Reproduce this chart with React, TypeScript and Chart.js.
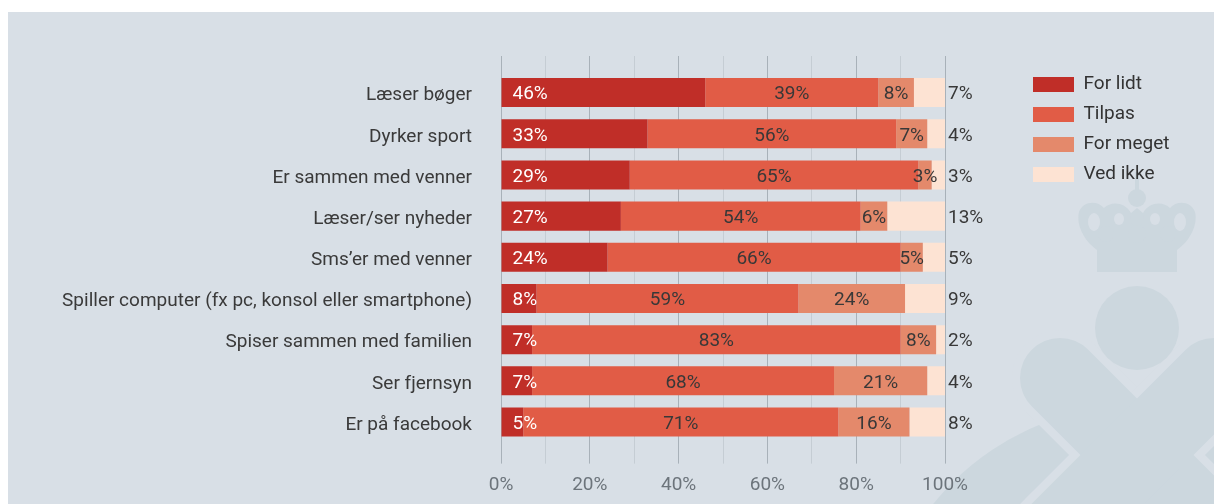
import React, { useEffect, useRef } from 'react';
import { Chart, registerables } from 'chart.js';

Chart.register(...registerables);

const categories = [
  'Læser bøger',
  'Dyrker sport',
  'Er sammen med venner',
  'Læser/ser nyheder',
  'Sms’er med venner',
  'Spiller computer (fx pc, konsol eller smartphone)',
  'Spiser sammen med familien',
  'Ser fjernsyn',
  'Er på facebook',
];
const seriesNames = ['For lidt', 'Tilpas', 'For meget', 'Ved ikke'];
const forLidt = [46, 33, 29, 27, 24, 8, 7, 7, 5];
const tilpas = [39, 56, 65, 54, 66, 59, 83, 68, 71];
const forMeget = [8, 7, 3, 6, 5, 24, 8, 21, 16];
const vedIkke = [7, 4, 3, 13, 5, 9, 2, 4, 8];
const xTickLabels = [0, 20, 40, 60, 80, 100];

const seriesColors = ['#c02e28', '#e15c46', '#e4896b', '#fde3d3'];
const FONT = 'Roboto, "DejaVu Sans", sans-serif';
const DARK = '#383838';
const BG = '#d8dfe6';
const WM = '#ccd7de';

const segLabels = {
  id: 'segLabels',
  afterDatasetsDraw(chart: any) {
    const ctx = chart.ctx;
    ctx.save();
    ctx.font = `19px ${FONT}`;
    ctx.textBaseline = 'middle';
    chart.data.datasets.forEach((ds: any, i: number) => {
      const meta = chart.getDatasetMeta(i);
      meta.data.forEach((el: any, j: number) => {
        const { x, y, base } = el.getProps(['x', 'y', 'base'], true);
        const txt = ds.data[j] + '%';
        const left = Math.min(x, base);
        const right = Math.max(x, base);
        const ty = y + 2;
        if (i === 0) {
          ctx.fillStyle = '#ffffff';
          ctx.textAlign = 'left';
          ctx.fillText(txt, left + 11, ty);
        } else if (i === 3) {
          ctx.fillStyle = DARK;
          ctx.textAlign = 'left';
          ctx.fillText(txt, right + 3, ty);
        } else {
          ctx.fillStyle = DARK;
          ctx.textAlign = 'center';
          ctx.fillText(txt, (left + right) / 2, ty);
        }
      });
    });
    ctx.restore();
  },
};

function Watermark() {
  return (
    <svg
      width={1206}
      height={492}
      style={{ position: 'absolute', left: 0, top: 0 }}
    >
      <g transform="translate(-8,-12)">
        <circle cx={1137} cy={667} r={261} fill={WM} />
        <line x1={1060} y1={378} x2={1320} y2={638} stroke={BG} strokeWidth={96} strokeLinecap="round" />
        <line x1={1214} y1={378} x2={954} y2={638} stroke={BG} strokeWidth={96} strokeLinecap="round" />
        <line x1={1060} y1={378} x2={1320} y2={638} stroke={WM} strokeWidth={80} strokeLinecap="round" />
        <line x1={1214} y1={378} x2={954} y2={638} stroke={WM} strokeWidth={80} strokeLinecap="round" />
        <circle cx={1137} cy={328} r={42} fill={WM} />
        <rect x={1135} y={172} width={4} height={20} fill={WM} />
        <circle cx={1137} cy={198} r={9} fill={WM} />
        <path
          d="M1097 272 L1097 250 C1083 240 1076 224 1079 212 C1083 201 1097 200 1104 208 C1111 201 1125 202 1131 213 L1137 208 L1143 213 C1149 202 1163 201 1170 208 C1177 200 1191 201 1195 212 C1198 224 1191 240 1177 250 L1177 272 Z"
          fill={WM}
        />
        <ellipse cx={1094} cy={222} rx={6} ry={9} fill={BG} />
        <ellipse cx={1180} cy={222} rx={6} ry={9} fill={BG} />
        <ellipse cx={1119} cy={219} rx={5} ry={6} fill={BG} />
        <ellipse cx={1155} cy={219} rx={5} ry={6} fill={BG} />
        <circle cx={1106} cy={234} r={8} fill={WM} />
        <circle cx={1137} cy={234} r={9} fill={WM} />
        <circle cx={1168} cy={234} r={8} fill={WM} />
        <circle cx={1137} cy={219} r={7} fill={WM} />
      </g>
    </svg>
  );
}

export default function App() {
  const ref = useRef<HTMLCanvasElement>(null);

  useEffect(() => {
    if (!ref.current) return;
    const gridColor = (c: any) =>
      c.tick && c.tick.value % 20 === 0 ? '#a8b1b9' : '#c5cdd4';
    const values = [forLidt, tilpas, forMeget, vedIkke];

    const chart = new Chart(ref.current, {
      type: 'bar',
      data: {
        labels: categories,
        datasets: seriesNames.map((name, i) => ({
          label: name,
          data: values[i],
          backgroundColor: seriesColors[i],
          borderWidth: 0,
          barPercentage: 0.705,
          categoryPercentage: 1,
        })),
      },
      options: {
        indexAxis: 'y',
        animation: false,
        responsive: true,
        maintainAspectRatio: false,
        events: [],
        layout: { padding: { top: 44, right: 42, bottom: 0, left: 0 } },
        font: { family: FONT, size: 19 },
        scales: {
          x: {
            type: 'linear',
            position: 'bottom',
            stacked: true,
            min: 0,
            max: 100,
            grid: { color: gridColor, lineWidth: 1, tickLength: 21, drawTicks: true },
            border: { display: false },
            ticks: {
              stepSize: 10,
              padding: 10,
              color: '#6c747b',
              font: { family: FONT, size: 19 },
              maxRotation: 0,
              autoSkip: false,
              callback: (v: any) => (xTickLabels.includes(Number(v)) ? v + '%' : ''),
            },
            afterFit: (s: any) => {
              s.height = 61.4;
            },
          },
          x2: {
            type: 'linear',
            position: 'top',
            min: 0,
            max: 100,
            grid: { color: gridColor, lineWidth: 1, tickLength: 16, drawOnChartArea: false, drawTicks: true },
            border: { display: false },
            ticks: { display: false, stepSize: 10 },
            afterFit: (s: any) => {
              s.height = 16;
            },
          },
          y: {
            type: 'category',
            position: 'left',
            stacked: true,
            grid: { display: false, drawTicks: false },
            border: { display: false },
            ticks: {
              padding: 29,
              color: '#3a3a3a',
              font: { family: FONT, size: 19 },
              autoSkip: false,
            },
            afterFit: (s: any) => {
              s.width = 493;
            },
            afterUpdate: (s: any) => {
              if (s.__shifted) return;
              s.__shifted = true;
              const orig = s.drawLabels.bind(s);
              s.drawLabels = (area: any) => {
                s.ctx.save();
                s.ctx.translate(0, 3);
                orig(area);
                s.ctx.restore();
              };
            },
          },
          y2: {
            type: 'category',
            position: 'right',
            grid: { display: false, drawTicks: false },
            border: { display: false },
            ticks: { display: false },
            afterFit: (s: any) => {
              s.width = 77;
            },
          },
        },
        plugins: {
          tooltip: { enabled: false },
          legend: {
            position: 'right',
            align: 'start',
            maxWidth: 150,
            title: { display: true, text: '', padding: 0, font: { size: 8, lineHeight: 1 } },
            labels: {
              boxWidth: 41,
              boxHeight: 15,
              padding: 11,
              color: '#333333',
              font: { family: FONT, size: 19 },
            },
          },
        },
      } as any,
      plugins: [segLabels],
    });

    return () => chart.destroy();
  }, []);

  return (
    <div
      style={{
        position: 'fixed',
        left: 8,
        top: 12,
        width: 1206,
        height: 492,
        background: BG,
        overflow: 'hidden',
      }}
    >
      <Watermark />
      <div style={{ position: 'absolute', left: 0, top: 0, width: 1206, height: 492 }}>
        <canvas ref={ref} />
      </div>
    </div>
  );
}
